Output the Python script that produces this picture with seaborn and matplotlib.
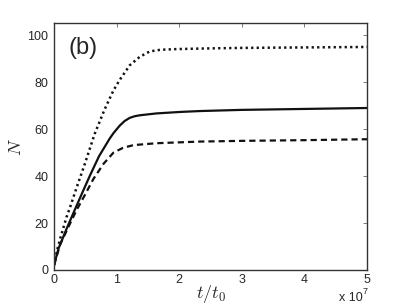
import pandas as pd
import matplotlib
matplotlib.use('Agg')
import matplotlib.pyplot as plt
import seaborn as sns

# --- data (t in units of 1e7 t0) ---
t_dotted = [0, 0.05, 0.1, 0.15, 0.2, 0.26, 0.36, 0.49, 0.65, 0.81, 0.95,
            1.05, 1.21, 1.37, 1.53, 1.7, 1.96, 2.5, 3.0, 4.0, 5.0]
n_dotted = [2, 8.5, 13.5, 18, 22.5, 27, 35, 45, 58, 68.5, 76.5,
            81, 87.2, 90.8, 93.1, 93.8, 94.1, 94.4, 94.6, 94.8, 95]

t_solid = [0, 0.07, 0.2, 0.33, 0.47, 0.57, 0.72, 0.89, 0.95, 1.05, 1.13,
           1.21, 1.29, 1.37, 1.64, 2.0, 2.33, 3.0, 4.0, 5.0]
n_solid = [2, 9, 17.5, 25.5, 34, 40, 48.5, 56, 58.3, 61.5, 63.5,
           64.8, 65.5, 65.9, 66.7, 67.3, 67.7, 68.2, 68.6, 69]

t_dashed = [0, 0.1, 0.26, 0.36, 0.49, 0.63, 0.79, 0.95, 1.1, 1.27,
            1.64, 2.33, 3.0, 4.0, 5.0]
n_dashed = [2, 11, 20, 25.5, 31.8, 38.8, 45.2, 50, 52, 53.2,
            54, 54.7, 55, 55.3, 55.7]

x_ticks = [0, 1, 2, 3, 4, 5]
y_ticks = [0, 20, 40, 60, 80, 100]

sns.set_style('white')
plt.rcParams['font.family'] = ['Liberation Sans', 'DejaVu Sans']
plt.rcParams['mathtext.fontset'] = 'cm'

fig = plt.figure(figsize=(4.07, 3.05), dpi=100)
ax = fig.add_axes([0.1327, 0.1148, 0.769, 0.8082])

line_col = '#111111'
df_dot = pd.DataFrame({'t': t_dotted, 'N': n_dotted})
df_sol = pd.DataFrame({'t': t_solid, 'N': n_solid})
df_das = pd.DataFrame({'t': t_dashed, 'N': n_dashed})

sns.lineplot(data=df_dot, x='t', y='N', ax=ax, color=line_col, lw=1.8,
             linestyle=(0, (0.9, 1.3)))
sns.lineplot(data=df_sol, x='t', y='N', ax=ax, color=line_col, lw=1.6)
sns.lineplot(data=df_das, x='t', y='N', ax=ax, color=line_col, lw=1.6,
             linestyle=(0, (2.8, 1.8)))

ax.set_xlim(0, 5)
ax.set_ylim(0, 105)
ax.set_xticks(x_ticks)
ax.set_yticks(y_ticks)
ax.set_xticklabels([str(v) for v in x_ticks], fontsize=9)
ax.set_yticklabels([str(v) for v in y_ticks], fontsize=9)
ax.tick_params(axis='x', pad=3)
ax.tick_params(direction='in', length=3, width=0.6, color='#666666',
               top=True, right=True)
ax.tick_params(axis='y', pad=4)

for sp in ax.spines.values():
    sp.set_color('#333333')
    sp.set_linewidth(1.0)

ax.set_xlabel('$t/t_0$', fontsize=13, labelpad=-2)
ax.set_ylabel('$N$', fontsize=13, labelpad=2)
ax.text(0.045, 0.875, '(b)', transform=ax.transAxes, fontsize=17)

# MATLAB-style exponent label under the last tick
ax.text(0.985, -0.126, 'x 10', transform=ax.transAxes, fontsize=9,
        ha='right', va='baseline')
ax.text(0.987, -0.099, '7', transform=ax.transAxes, fontsize=6.5,
        ha='left', va='baseline')

fig.savefig('out.png', dpi=100)
